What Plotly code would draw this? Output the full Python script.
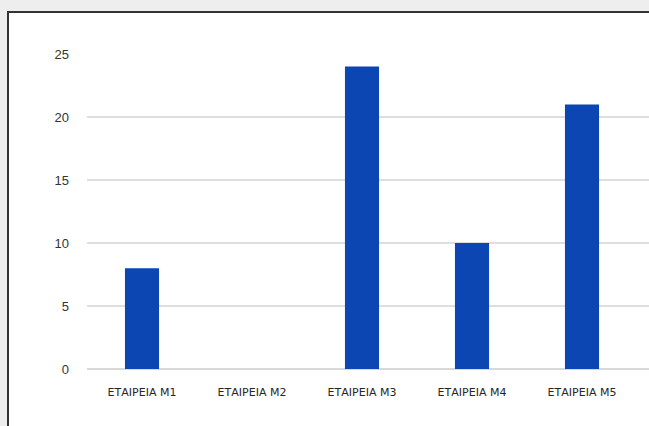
import plotly.graph_objects as go

categories = ["ΕΤΑΙΡΕΙΑ Μ1", "ΕΤΑΙΡΕΙΑ Μ2", "ΕΤΑΙΡΕΙΑ Μ3", "ΕΤΑΙΡΕΙΑ Μ4", "ΕΤΑΙΡΕΙΑ Μ5"]
values = [8, 0, 24, 10, 21]
y_ticks = [0, 5, 10, 15, 20, 25]

W, H = 649, 426
ml, mr, mt, mb = 87, 0, 54, 57
pw, ph = W - ml - mr, H - mt - mb

def px_x(x):
    return (x - ml) / pw

def px_y(y):
    return 1 - (y - mt) / ph

fig = go.Figure()
fig.add_trace(go.Bar(
    x=list(range(len(categories))), y=values,
    marker=dict(color="#0b46b3", line=dict(width=0)),
    width=0.31,
))

fig.update_layout(
    width=W, height=H,
    margin=dict(l=ml, r=mr, t=mt, b=mb, pad=0),
    paper_bgcolor="#eeeeee",
    plot_bgcolor="rgba(0,0,0,0)",
    showlegend=False,
    font=dict(family="Liberation Sans, Arial, sans-serif", color="#333333"),
    xaxis=dict(
        range=[-0.5, 4.5 + 12 / 110],
        tickmode="array", tickvals=list(range(len(categories))), ticktext=categories,
        showgrid=False, zeroline=False, showline=False, ticks="",
        tickfont=dict(family="DejaVu Sans", size=11, color="#262626"),
        ticklabelstandoff=15,
    ),
    yaxis=dict(
        range=[0, 25], tickmode="array", tickvals=y_ticks,
        showgrid=True, gridcolor="#dedede", gridwidth=2,
        zeroline=True, zerolinecolor="#d8d8d8", zerolinewidth=2,
        showline=False, ticks="",
        tickfont=dict(size=13, color="#333333"),
        ticklabelstandoff=17,
    ),
    shapes=[
        dict(type="rect", xref="paper", yref="paper",
             x0=px_x(8), x1=px_x(W + 20), y0=px_y(H + 20), y1=px_y(12),
             fillcolor="white", line=dict(color="#333333", width=2), layer="below"),
    ],
)

fig.write_html("out.html")
